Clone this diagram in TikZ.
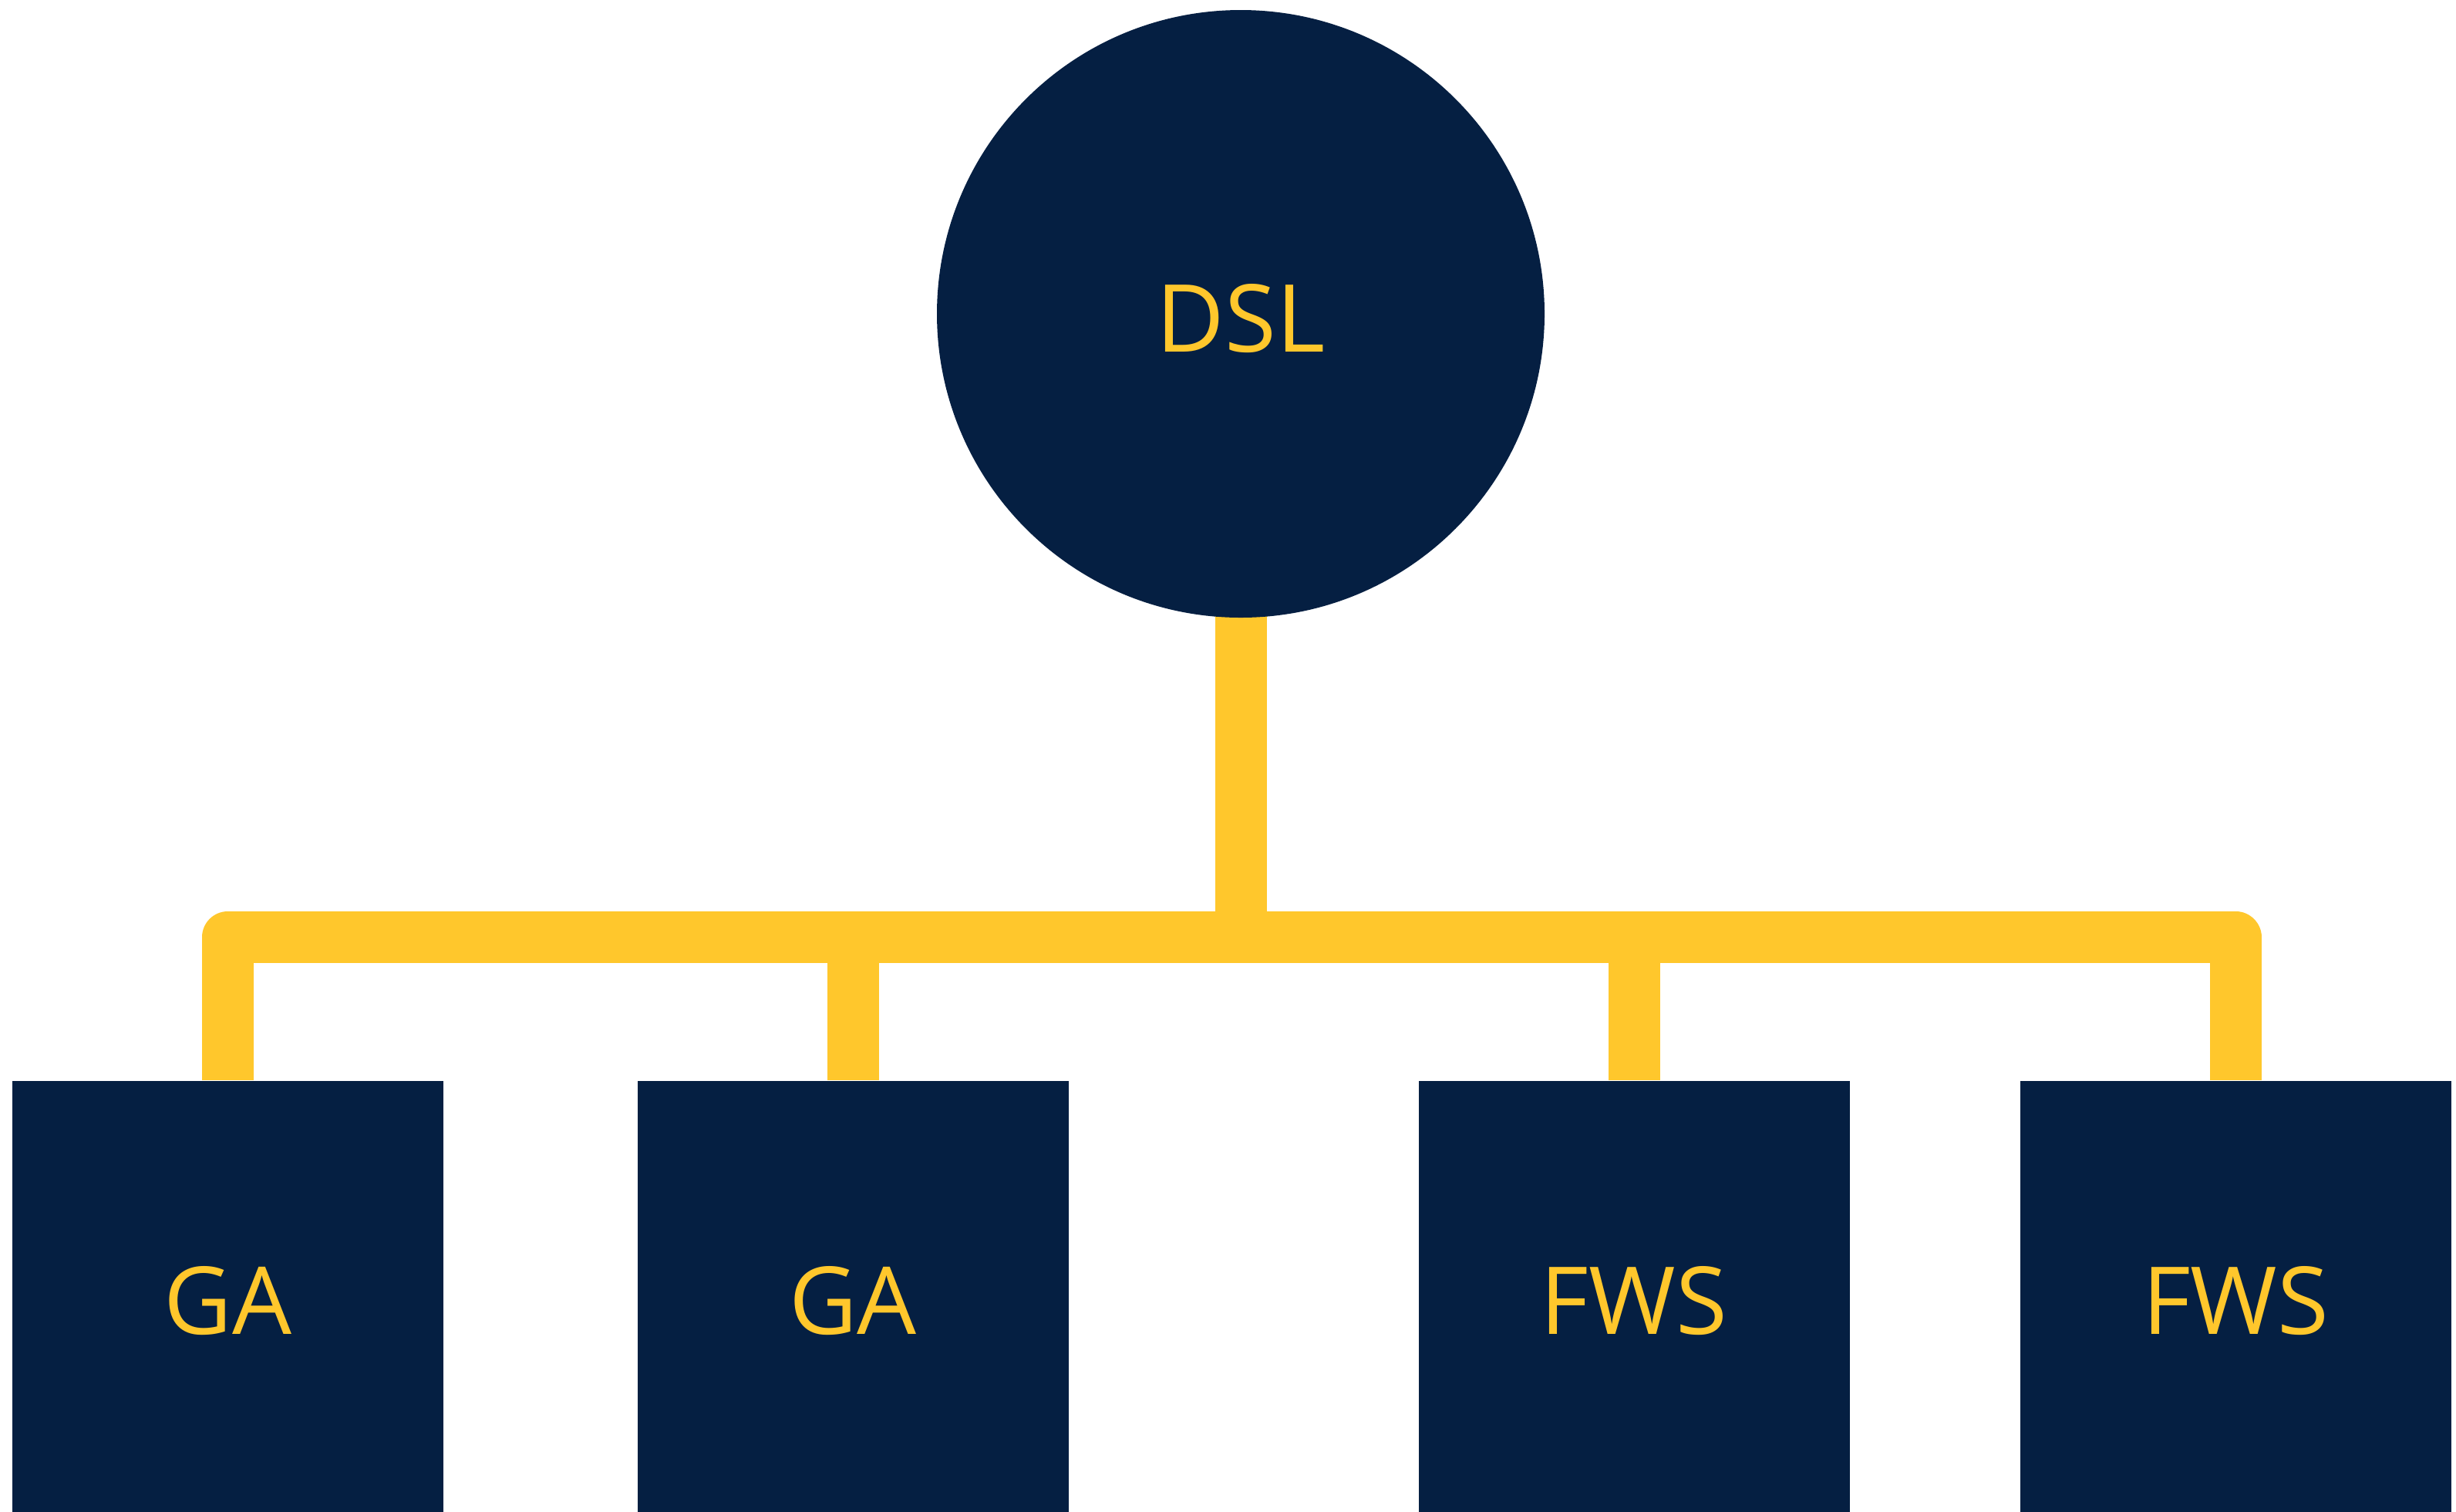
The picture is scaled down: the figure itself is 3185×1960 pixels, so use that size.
\documentclass[tikz,border=0pt]{standalone}
\usepackage{fontspec}
\setmainfont{Open Sans}
\usetikzlibrary{backgrounds}
\definecolor{navyblue}{RGB}{5,31,66}
\definecolor{goldyellow}{RGB}{255,199,44}
\begin{document}
\begin{tikzpicture}[x=0.1mm,y=-0.1mm]
            \useasboundingbox (0,0) rectangle (3185,1960);
            \tikzstyle{rootnode} = [circle,fill=navyblue,text=goldyellow,minimum size=7.88cm,inner sep=0pt,text height=9.9mm,text depth=0pt,font=\fontsize{34.6}{40}\selectfont]
            \tikzstyle{leafnode} = [rectangle,fill=navyblue,text=goldyellow,minimum size=5.59cm,inner sep=0pt,text height=9.9mm,text depth=0pt,font=\fontsize{34.6}{40}\selectfont]
            \tikzstyle{treeline} = [goldyellow,line width=6.7mm,line join=round]
            \node[rootnode] (dsl) at (1609,407) {DSL};
            \node[leafnode] (ga1) at (295.5,1681) {GA};
            \node[leafnode] (ga2) at (1106,1681) {GA};
            \node[leafnode] (fws1) at (2119,1681) {FWS};
            \node[leafnode] (fws2) at (2899,1681) {FWS};
            \coordinate (bar) at (1609,1215.5);
            \begin{scope}[on background layer]
                \draw[treeline] (ga1.north) -- (ga1.north |- bar) -- (fws2.north |- bar) -- (fws2.north);
                \draw[treeline] (ga2.north) -- (ga2.north |- bar);
                \draw[treeline] (fws1.north) -- (fws1.north |- bar);
                \draw[treeline] (dsl.center) -- (bar);
            \end{scope}
        \end{tikzpicture}
\end{document}
